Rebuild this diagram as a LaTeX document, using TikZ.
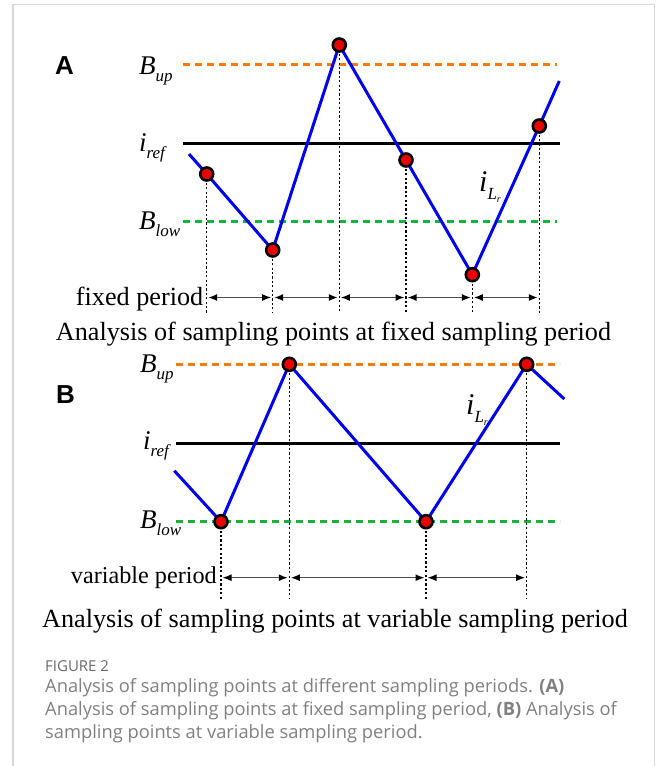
\documentclass[tikz,border=0pt]{standalone}
\usepackage{fontspec}
\setmainfont{Liberation Serif}
\newfontfamily\arialf{Liberation Sans}
\newfontfamily\capf{Open Sans}
\usetikzlibrary{arrows.meta}
\definecolor{cblue}{RGB}{0,0,240}
\definecolor{corange}{RGB}{255,120,10}
\definecolor{cgreen}{RGB}{20,180,60}
\definecolor{cred}{RGB}{235,0,0}
\definecolor{capgray}{RGB}{128,128,128}
\definecolor{figgray}{RGB}{105,105,105}
\definecolor{framegray}{RGB}{215,215,215}
\newcommand{\sublab}[2]{{\fontsize{27}{27}\selectfont\itshape #1}\raisebox{-7pt}{\fontsize{17}{17}\selectfont\itshape #2}}
\newcommand{\ilr}{{\fontsize{30}{30}\selectfont\itshape i}\raisebox{-8pt}{\fontsize{17}{17}\selectfont\itshape L\raisebox{-3pt}{\fontsize{10}{10}\selectfont r}}}
\tikzset{
  wave/.style={draw=cblue, line width=3pt, line join=miter},
  refline/.style={draw=black, line width=3pt},
  upline/.style={draw=corange, line width=3pt, dash pattern=on 7pt off 5pt},
  lowline/.style={draw=cgreen, line width=3pt, dash pattern=on 7pt off 5pt},
  spt/.style={circle, draw=black, fill=cred, line width=2.6pt, minimum size=13pt, inner sep=0pt},
  vdot/.style={draw=black, line width=1.3pt, dash pattern=on 2.2pt off 2.2pt},
  per/.style={draw=black!70, line width=1.4pt, {Latex[length=9pt,width=7pt,black]}-{Latex[length=9pt,width=7pt,black]}, shorten <=1.5pt, shorten >=1.5pt},
  ttl/.style={font=\fontsize{26.2}{29}\selectfont, inner sep=0pt},
  lab/.style={inner sep=0pt, anchor=base west},
  panel/.style={font=\arialf\bfseries\fontsize{26}{26}\selectfont, inner sep=0pt, anchor=base west},
  capt/.style={font=\capf\fontsize{18.3}{22}\selectfont, text=capgray, inner sep=0pt, anchor=base west}
}
\begin{document}
\begin{tikzpicture}[x=1pt,y=-1pt]
\useasboundingbox (0,0) rectangle (656,766);
% frame
\draw[framegray, line width=1.3pt] (13,766) -- (13,4.3) -- (654.3,4.3) -- (654.3,766);

% ================= Panel A =================
\node[panel] (pA) at (55,74) {A};
\node[lab] (bupA) at (139,74) {\sublab{B}{up}};
\node[lab] (irefA) at (139,151) {\sublab{i}{ref}};
\node[lab] (blowA) at (139,229) {\sublab{B}{low}};
\coordinate (upAl) at (183,64.3);  \coordinate (upAr) at (557,64.3);
\coordinate (rfAl) at (183,143.3); \coordinate (rfAr) at (560,143.3);
\coordinate (lwAl) at (183,221.7); \coordinate (lwAr) at (557,221.7);
\draw[upline] (upAl) -- (upAr);
\draw[refline] (rfAl) -- (rfAr);
\draw[lowline] (lwAl) -- (lwAr);

\coordinate (wAs) at (189,154);
\coordinate (wAe) at (559.3,81);
\coordinate (a1) at (206.7,174);
\coordinate (a2) at (272.7,250);
\coordinate (a3) at (339.3,45);
\coordinate (a4) at (406,160);
\coordinate (a5) at (472.3,274.7);
\coordinate (a6) at (539.3,126);
\coordinate (ay) at (0,297.5);
\coordinate (ab) at (0,313);
\foreach \p in {a1,a2,a3,a4,a5,a6} \draw[vdot] (\p) -- (\p |- ab);
\draw[wave] (wAs) -- (a1) -- (a2) -- (a3) -- (a4) -- (a5) -- (a6) -- (wAe);
\foreach \p in {a1,a2,a3,a4,a5,a6} \node[spt] (n\p) at (\p) {};
\draw[per] (a1 |- ay) -- (a2 |- ay);
\draw[per] (a2 |- ay) -- (a3 |- ay);
\draw[per] (a3 |- ay) -- (a4 |- ay);
\draw[per] (a4 |- ay) -- (a5 |- ay);
\draw[per] (a5 |- ay) -- (a6 |- ay);
\node[lab] (ilA) at (479,191) {\ilr};
\node[ttl, anchor=base east] (fpA) at (203.5,305) {fixed period};
\node[ttl, anchor=base] (tA) at (333.5,340) {Analysis of sampling points at fixed sampling period};

% ================= Panel B =================
\node[panel] (pB) at (56,403) {B};
\node[lab] (bupB) at (140,372) {\sublab{B}{up}};
\node[lab] (irefB) at (143,449) {\sublab{i}{ref}};
\node[lab] (blowB) at (140,528) {\sublab{B}{low}};
\coordinate (upBl) at (176,364.3); \coordinate (upBr) at (560,364.3);
\coordinate (rfBl) at (176,443);   \coordinate (rfBr) at (560,443);
\coordinate (lwBl) at (176,521.7); \coordinate (lwBr) at (560,521.7);
\draw[upline] (upBl) -- (upBr);
\draw[refline] (rfBl) -- (rfBr);
\draw[lowline] (lwBl) -- (lwBr);

\coordinate (wBs) at (174.3,470.7);
\coordinate (wBe) at (564.3,399);
\coordinate (b1) at (221,521.7);
\coordinate (b2) at (289.3,364.3);
\coordinate (b3) at (426,521.7);
\coordinate (b4) at (526.7,364.3);
\coordinate (by) at (0,577.7);
\coordinate (bb) at (0,599);
\foreach \p in {b1,b2,b3,b4} \draw[vdot] (\p) -- (\p |- bb);
\draw[wave] (wBs) -- (b1) -- (b2) -- (b3) -- (b4) -- (wBe);
\foreach \p in {b1,b2,b3,b4} \node[spt] (n\p) at (\p) {};
\draw[per] (b1 |- by) -- (b2 |- by);
\draw[per] (b2 |- by) -- (b3 |- by);
\draw[per] (b3 |- by) -- (b4 |- by);
\node[lab] (ilB) at (466,414) {\ilr};
\node[ttl, anchor=base east, font=\fontsize{24.2}{27}\selectfont] (vpB) at (217,583) {variable period};
\node[ttl, anchor=base] (tB) at (335,627) {Analysis of sampling points at variable sampling period};

% ================= Caption =================
\node[capt, font=\capf\fontsize{15}{17}\selectfont, text=figgray] (fig) at (45,671) {FIGURE 2};
\node[capt] (c1) at (45,692) {Analysis of sampling points at different sampling periods. \textbf{(A)}};
\node[capt] (c2) at (45,715) {Analysis of sampling points at fixed sampling period, \textbf{(B)} Analysis of};
\node[capt] (c3) at (45,738) {sampling points at variable sampling period.};
\end{tikzpicture}
\end{document}
